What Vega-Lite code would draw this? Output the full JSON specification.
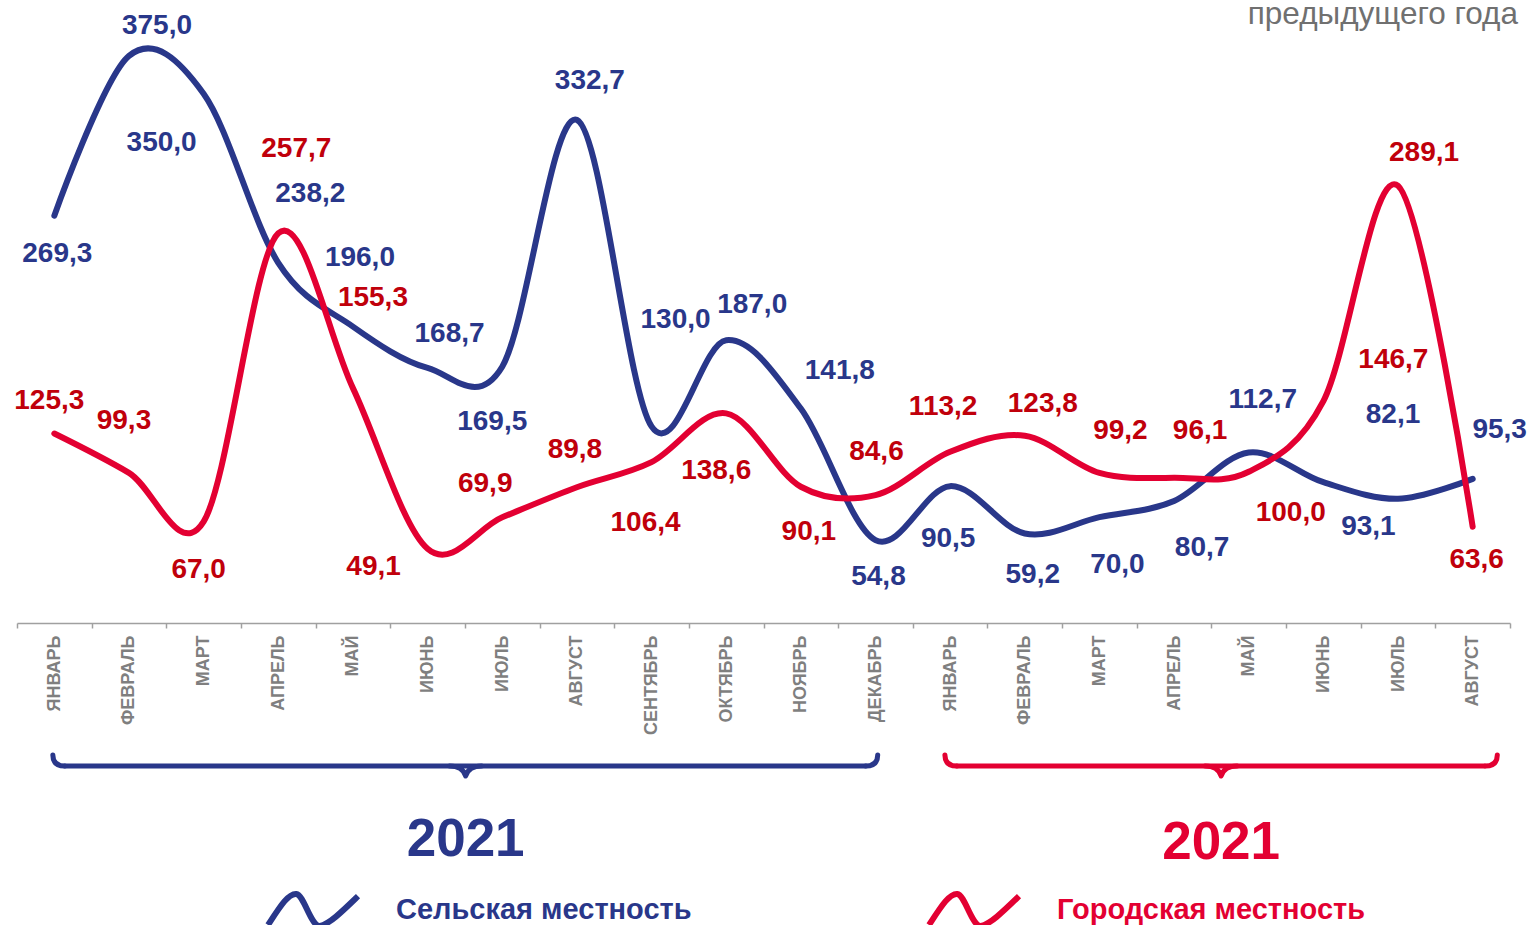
{
  "$schema": "https://vega.github.io/schema/vega-lite/v6.json",
  "width": 1493,
  "height": 617,
  "autosize": "none",
  "padding": {"left": 17, "top": 6, "right": 24, "bottom": 302},
  "background": "white",
  "config": {
    "view": {"stroke": null},
    "font": "Liberation Sans",
    "locale": {"number": {"decimal": ",", "thousands": " ", "grouping": [3], "currency": ["", ""]}}
  },
  "title": {
    "text": "предыдущего года",
    "anchor": "end",
    "frame": "group",
    "orient": "top",
    "offset": -49,
    "baseline": "alphabetic",
    "dx": 8,
    "fontSize": 31.5,
    "fontWeight": "normal",
    "font": "Liberation Sans",
    "color": "#707070"
  },
  "datasets": {
    "main": [
      {"period": "ЯНВАРЬ 2021", "series": "Сельская местность", "value": 269.3},
      {"period": "ФЕВРАЛЬ 2021", "series": "Сельская местность", "value": 375.0},
      {"period": "МАРТ 2021", "series": "Сельская местность", "value": 350.0},
      {"period": "АПРЕЛЬ 2021", "series": "Сельская местность", "value": 238.2},
      {"period": "МАЙ 2021", "series": "Сельская местность", "value": 196.0},
      {"period": "ИЮНЬ 2021", "series": "Сельская местность", "value": 168.7},
      {"period": "ИЮЛЬ 2021", "series": "Сельская местность", "value": 169.5},
      {"period": "АВГУСТ 2021", "series": "Сельская местность", "value": 332.7},
      {"period": "СЕНТЯБРЬ 2021", "series": "Сельская местность", "value": 130.0},
      {"period": "ОКТЯБРЬ 2021", "series": "Сельская местность", "value": 187.0},
      {"period": "НОЯБРЬ 2021", "series": "Сельская местность", "value": 141.8},
      {"period": "ДЕКАБРЬ 2021", "series": "Сельская местность", "value": 54.8},
      {"period": "ЯНВАРЬ 2022", "series": "Сельская местность", "value": 90.5},
      {"period": "ФЕВРАЛЬ 2022", "series": "Сельская местность", "value": 59.2},
      {"period": "МАРТ 2022", "series": "Сельская местность", "value": 70.0},
      {"period": "АПРЕЛЬ 2022", "series": "Сельская местность", "value": 80.7},
      {"period": "МАЙ 2022", "series": "Сельская местность", "value": 112.7},
      {"period": "ИЮНЬ 2022", "series": "Сельская местность", "value": 93.1},
      {"period": "ИЮЛЬ 2022", "series": "Сельская местность", "value": 82.1},
      {"period": "АВГУСТ 2022", "series": "Сельская местность", "value": 95.3},
      {"period": "ЯНВАРЬ 2021", "series": "Городская местность", "value": 125.3},
      {"period": "ФЕВРАЛЬ 2021", "series": "Городская местность", "value": 99.3},
      {"period": "МАРТ 2021", "series": "Городская местность", "value": 67.0},
      {"period": "АПРЕЛЬ 2021", "series": "Городская местность", "value": 257.7},
      {"period": "МАЙ 2021", "series": "Городская местность", "value": 155.3},
      {"period": "ИЮНЬ 2021", "series": "Городская местность", "value": 49.1},
      {"period": "ИЮЛЬ 2021", "series": "Городская местность", "value": 69.9},
      {"period": "АВГУСТ 2021", "series": "Городская местность", "value": 89.8},
      {"period": "СЕНТЯБРЬ 2021", "series": "Городская местность", "value": 106.4},
      {"period": "ОКТЯБРЬ 2021", "series": "Городская местность", "value": 138.6},
      {"period": "НОЯБРЬ 2021", "series": "Городская местность", "value": 90.1},
      {"period": "ДЕКАБРЬ 2021", "series": "Городская местность", "value": 84.6},
      {"period": "ЯНВАРЬ 2022", "series": "Городская местность", "value": 113.2},
      {"period": "ФЕВРАЛЬ 2022", "series": "Городская местность", "value": 123.8},
      {"period": "МАРТ 2022", "series": "Городская местность", "value": 99.2},
      {"period": "АПРЕЛЬ 2022", "series": "Городская местность", "value": 96.1},
      {"period": "МАЙ 2022", "series": "Городская местность", "value": 100.0},
      {"period": "ИЮНЬ 2022", "series": "Городская местность", "value": 146.7},
      {"period": "ИЮЛЬ 2022", "series": "Городская местность", "value": 289.1},
      {"period": "АВГУСТ 2022", "series": "Городская местность", "value": 63.6}
    ],
    "brackets": [
      {"series": "Сельская местность", "year": "2021", "start": "ЯНВАРЬ 2021", "mid": "ИЮЛЬ 2021", "end": "ДЕКАБРЬ 2021"},
      {"series": "Городская местность", "year": "2021", "start": "ЯНВАРЬ 2022", "mid": "МАЙ 2022", "end": "АВГУСТ 2022"}
    ]
  },
  "layer": [
    {
      "data": {"name": "main"},
      "mark": {"type": "line", "interpolate": "cardinal", "strokeWidth": 6, "strokeCap": "round", "strokeJoin": "round"},
      "encoding": {
        "x": {
          "field": "period",
          "type": "nominal",
          "bandPosition": 0.5,
          "scale": {
            "type": "band",
            "paddingInner": 0,
            "paddingOuter": 0,
            "domain": ["ЯНВАРЬ 2021", "ФЕВРАЛЬ 2021", "МАРТ 2021", "АПРЕЛЬ 2021", "МАЙ 2021", "ИЮНЬ 2021", "ИЮЛЬ 2021", "АВГУСТ 2021", "СЕНТЯБРЬ 2021", "ОКТЯБРЬ 2021", "НОЯБРЬ 2021", "ДЕКАБРЬ 2021", "ЯНВАРЬ 2022", "ФЕВРАЛЬ 2022", "МАРТ 2022", "АПРЕЛЬ 2022", "МАЙ 2022", "ИЮНЬ 2022", "ИЮЛЬ 2022", "АВГУСТ 2022"]
          },
          "axis": {
            "title": null,
            "labelExpr": "split(datum.label, ' ')[0]",
            "labelAngle": -90,
            "labelFontSize": 18,
            "labelFontWeight": "bold",
            "labelColor": "#7F7F7F",
            "labelFont": "Liberation Sans",
            "labelPadding": 7,
            "tickBand": "extent",
            "tickSize": 5,
            "tickColor": "#A0A0A0",
            "tickWidth": 1.5,
            "domainColor": "#A0A0A0",
            "domainWidth": 1.5,
            "grid": false
          }
        },
        "y": {
          "field": "value",
          "type": "quantitative",
          "scale": {"domain": [0, 408], "nice": false, "zero": false},
          "axis": null
        },
        "color": {
          "field": "series",
          "type": "nominal",
          "scale": {"domain": ["Сельская местность", "Городская местность"], "range": ["#29378A", "#E30032"]},
          "legend": {
            "title": null,
            "orient": "none",
            "legendX": 248,
            "legendY": 856,
            "direction": "horizontal",
            "symbolType": "M-1,0.33 C-0.75,-0.05 -0.55,-0.38 -0.37,-0.36 C-0.2,-0.34 -0.05,0.36 0.15,0.35 C0.35,0.33 0.7,-0.02 1,-0.31",
            "symbolSize": 8100,
            "symbolStrokeWidth": 6,
            "labelFontSize": 29,
            "labelFont": "Liberation Sans",
            "labelFontWeight": "bold",
            "labelColor": {"expr": "datum.value === 'Городская местность' ? '#E30032' : '#29378A'"},
            "labelOffset": 35,
            "labelLimit": 0,
            "columnPadding": 225
          }
        }
      }
    },
    {
      "data": {"name": "main"},
      "transform": [{"filter": "datum.series === 'Сельская местность'"}],
      "mark": {
        "type": "text",
        "fontSize": 28,
        "fontWeight": "bold",
        "color": "#29378A",
        "align": "center",
        "baseline": "middle",
        "dx": {"expr": "{'ЯНВАРЬ 2021': 3, 'ФЕВРАЛЬ 2021': 28, 'МАРТ 2021': -42, 'АПРЕЛЬ 2021': 32, 'МАЙ 2021': 7, 'ИЮНЬ 2021': 22, 'ИЮЛЬ 2021': -10, 'АВГУСТ 2021': 13, 'СЕНТЯБРЬ 2021': 24, 'ОКТЯБРЬ 2021': 26, 'НОЯБРЬ 2021': 39, 'ДЕКАБРЬ 2021': 3, 'ЯНВАРЬ 2022': -2, 'ФЕВРАЛЬ 2022': 8, 'МАРТ 2022': 18, 'АПРЕЛЬ 2022': 28, 'МАЙ 2022': 14, 'ИЮНЬ 2022': 45, 'ИЮЛЬ 2022': -5, 'АВГУСТ 2022': 27}[datum.period]"},
        "dy": {"expr": "{'ЯНВАРЬ 2021': 38, 'ФЕВРАЛЬ 2021': -30, 'МАРТ 2021': 49, 'АПРЕЛЬ 2021': -69, 'МАЙ 2021': -69, 'ИЮНЬ 2021': -34, 'ИЮЛЬ 2021': 55, 'АВГУСТ 2021': -39, 'СЕНТЯБРЬ 2021': -106, 'ОКТЯБРЬ 2021': -35, 'НОЯБРЬ 2021': -38, 'ДЕКАБРЬ 2021': 37, 'ЯНВАРЬ 2022': 53, 'ФЕВРАЛЬ 2022': 42, 'МАРТ 2022': 48, 'АПРЕЛЬ 2022': 47, 'МАЙ 2022': -53, 'ИЮНЬ 2022': 45, 'ИЮЛЬ 2022': -84, 'АВГУСТ 2022': -49}[datum.period]"}
      },
      "encoding": {
        "x": {"field": "period", "type": "nominal", "bandPosition": 0.5},
        "y": {"field": "value", "type": "quantitative"},
        "text": {"field": "value", "type": "quantitative", "format": ".1f"}
      }
    },
    {
      "data": {"name": "main"},
      "transform": [{"filter": "datum.series === 'Городская местность'"}],
      "mark": {
        "type": "text",
        "fontSize": 28,
        "fontWeight": "bold",
        "color": "#C0000B",
        "align": "center",
        "baseline": "middle",
        "dx": {"expr": "{'ЯНВАРЬ 2021': -5, 'ФЕВРАЛЬ 2021': -5, 'МАРТ 2021': -5, 'АПРЕЛЬ 2021': 18, 'МАЙ 2021': 20, 'ИЮНЬ 2021': -54, 'ИЮЛЬ 2021': -17, 'АВГУСТ 2021': -2, 'СЕНТЯБРЬ 2021': -6, 'ОКТЯБРЬ 2021': -10, 'НОЯБРЬ 2021': 8, 'ДЕКАБРЬ 2021': 1, 'ЯНВАРЬ 2022': -7, 'ФЕВРАЛЬ 2022': 18, 'МАРТ 2022': 21, 'АПРЕЛЬ 2022': 26, 'МАЙ 2022': 42, 'ИЮНЬ 2022': 70, 'ИЮЛЬ 2022': 26, 'АВГУСТ 2022': 4}[datum.period]"},
        "dy": {"expr": "{'ЯНВАРЬ 2021': -33, 'ФЕВРАЛЬ 2021': -52, 'МАРТ 2021': 48, 'АПРЕЛЬ 2021': -84, 'МАЙ 2021': -90, 'ИЮНЬ 2021': 18, 'ИЮЛЬ 2021': -33, 'АВГУСТ 2021': -37, 'СЕНТЯБРЬ 2021': 61, 'ОКТЯБРЬ 2021': 58, 'НОЯБРЬ 2021': 45, 'ДЕКАБРЬ 2021': -43, 'ЯНВАРЬ 2022': -45, 'ФЕВРАЛЬ 2022': -32, 'МАРТ 2022': -42, 'АПРЕЛЬ 2022': -47, 'МАЙ 2022': 41, 'ИЮНЬ 2022': -41, 'ИЮЛЬ 2022': -33, 'АВГУСТ 2022': 33}[datum.period]"}
      },
      "encoding": {
        "x": {"field": "period", "type": "nominal", "bandPosition": 0.5},
        "y": {"field": "value", "type": "quantitative"},
        "text": {"field": "value", "type": "quantitative", "format": ".1f"}
      }
    },
    {
      "data": {"name": "brackets"},
      "transform": [{"filter": "datum.series === 'Сельская местность'"}],
      "encoding": {
        "y": {"datum": -94.6, "type": "quantitative"},
        "color": {"value": "#29378A"}
      },
      "layer": [
        {
          "mark": {"type": "rule", "strokeWidth": 5, "strokeCap": "round"},
          "encoding": {
            "x": {"field": "start", "type": "nominal", "bandPosition": 0.64},
            "x2": {"field": "end", "bandPosition": 0.37}
          }
        },
        {
          "mark": {"type": "point", "shape": "M0,-11 Q0,0 12,0", "size": 4, "filled": false, "opacity": 1, "strokeWidth": 5, "strokeCap": "round"},
          "encoding": {"x": {"field": "start", "type": "nominal", "bandPosition": 0.48}}
        },
        {
          "mark": {"type": "point", "shape": "M-12,0 Q0,0 0,-11", "size": 4, "filled": false, "opacity": 1, "strokeWidth": 5, "strokeCap": "round"},
          "encoding": {"x": {"field": "end", "type": "nominal", "bandPosition": 0.53}}
        },
        {
          "mark": {"type": "point", "shape": "M-16,0 Q-3,0 0,10 Q3,0 16,0", "size": 4, "filled": false, "opacity": 1, "strokeWidth": 5, "strokeCap": "round", "strokeJoin": "round"},
          "encoding": {"x": {"field": "mid", "type": "nominal", "bandPosition": 0.01}}
        },
        {
          "mark": {"type": "text", "fontWeight": "bold", "align": "center", "baseline": "middle", "fontSize": 53, "font": "Liberation Sans"},
          "encoding": {
            "x": {"field": "mid", "type": "nominal", "bandPosition": 0.01},
            "y": {"datum": -143.5, "type": "quantitative"},
            "text": {"field": "year"}
          }
        }
      ]
    },
    {
      "data": {"name": "brackets"},
      "transform": [{"filter": "datum.series === 'Городская местность'"}],
      "encoding": {
        "y": {"datum": -94.6, "type": "quantitative"},
        "color": {"value": "#E30032"}
      },
      "layer": [
        {
          "mark": {"type": "rule", "strokeWidth": 5, "strokeCap": "round"},
          "encoding": {
            "x": {"field": "start", "type": "nominal", "bandPosition": 0.59},
            "x2": {"field": "end", "bandPosition": 0.66}
          }
        },
        {
          "mark": {"type": "point", "shape": "M0,-11 Q0,0 12,0", "size": 4, "filled": false, "opacity": 1, "strokeWidth": 5, "strokeCap": "round"},
          "encoding": {"x": {"field": "start", "type": "nominal", "bandPosition": 0.43}}
        },
        {
          "mark": {"type": "point", "shape": "M-12,0 Q0,0 0,-11", "size": 4, "filled": false, "opacity": 1, "strokeWidth": 5, "strokeCap": "round"},
          "encoding": {"x": {"field": "end", "type": "nominal", "bandPosition": 0.83}}
        },
        {
          "mark": {"type": "point", "shape": "M-16,0 Q-3,0 0,10 Q3,0 16,0", "size": 4, "filled": false, "opacity": 1, "strokeWidth": 5, "strokeCap": "round", "strokeJoin": "round"},
          "encoding": {"x": {"field": "mid", "type": "nominal", "bandPosition": 0.13}}
        },
        {
          "mark": {"type": "text", "fontWeight": "bold", "align": "center", "baseline": "middle", "fontSize": 53, "font": "Liberation Sans"},
          "encoding": {
            "x": {"field": "mid", "type": "nominal", "bandPosition": 0.13},
            "y": {"datum": -145.5, "type": "quantitative"},
            "text": {"field": "year"}
          }
        }
      ]
    }
  ]
}
